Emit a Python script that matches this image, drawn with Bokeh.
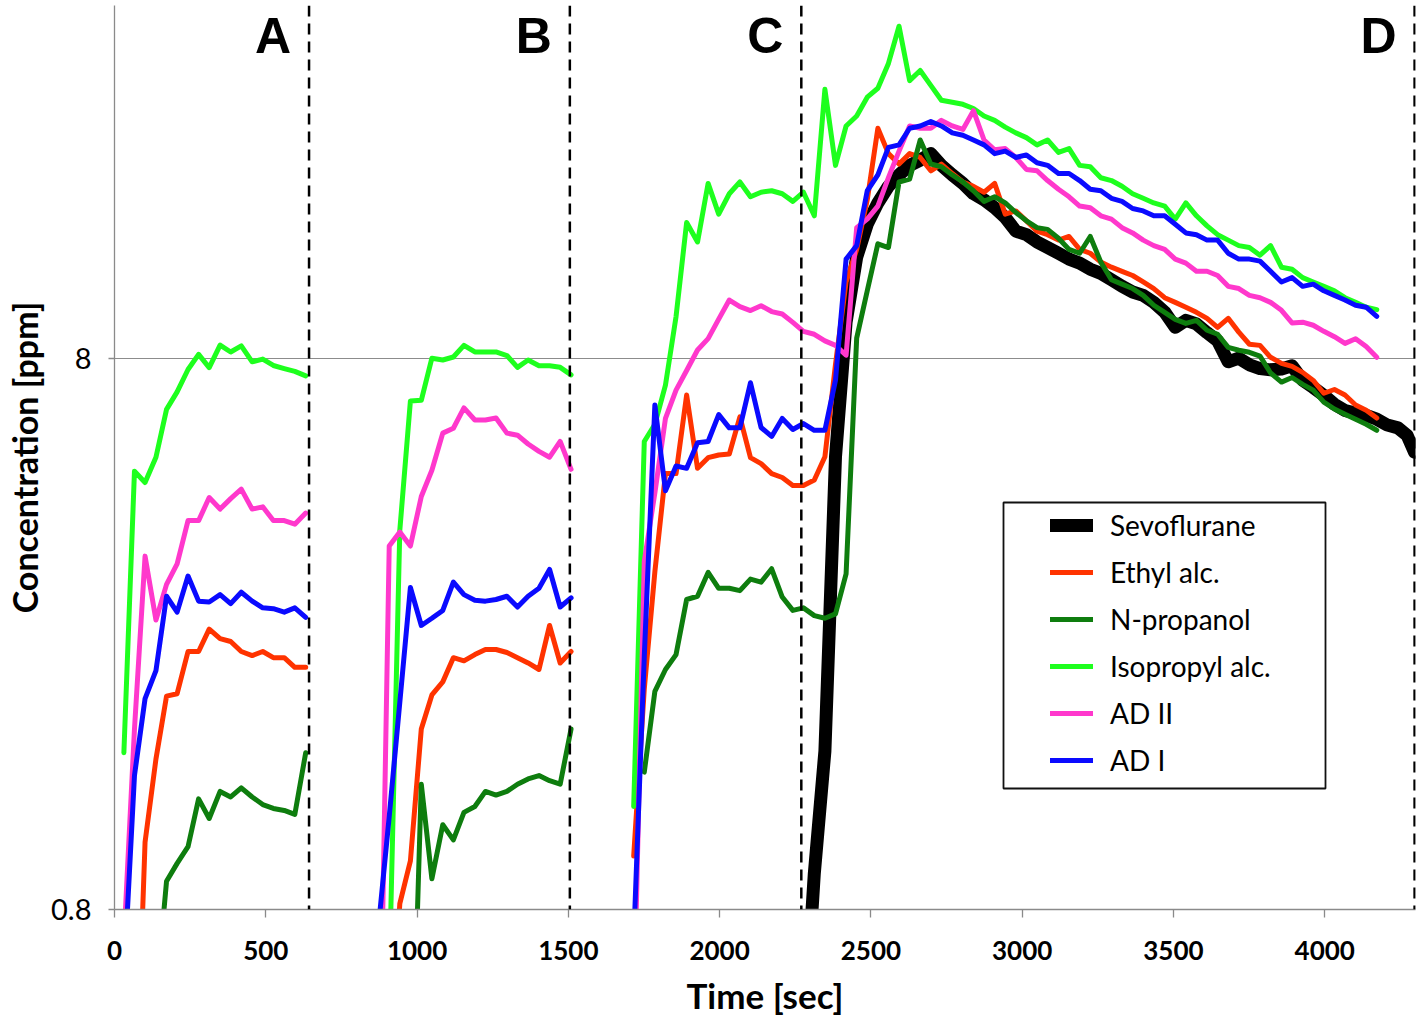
import math
from bokeh.plotting import figure
from bokeh.models import (Range1d, FixedTicker, CustomJSTickFormatter, Span, Label,
                          Legend, LegendItem, BoxAnnotation)
from bokeh.embed import file_html
from bokeh.resources import INLINE

NaN = float("nan")

# ---------------- data (time in s, concentration in ppm) ----------------
t_A = [31, 66, 101, 137, 172, 207, 243, 278, 313, 349, 384, 419, 455, 490, 525, 561, 596, 632]
t_B = [873, 908, 943, 978, 1014, 1049, 1085, 1120, 1155, 1191, 1226, 1261, 1297, 1332, 1367,
       1403, 1438, 1473, 1509]
t_CD = [1716, 1751, 1786, 1821, 1856, 1891, 1927, 1962, 1997, 2032, 2067, 2102, 2137, 2172, 2207,
        2242, 2277, 2313, 2348, 2383, 2418, 2453, 2488, 2523, 2558, 2593, 2628, 2663, 2698, 2733,
        2769, 2804, 2839, 2874, 2909, 2944, 2979, 3014, 3049, 3084, 3120, 3155, 3190, 3225, 3260,
        3295, 3330, 3365, 3400, 3435, 3471, 3506, 3541, 3576, 3611, 3646, 3681, 3716, 3751, 3786,
        3821, 3857, 3892, 3927, 3962, 3997, 4032, 4067, 4102, 4137, 4172]
t_sevo = [2277, 2313, 2348, 2383, 2418, 2453, 2488, 2523, 2558, 2593, 2628, 2663, 2698, 2733,
          2769, 2804, 2839, 2874, 2909, 2944, 2979, 3014, 3049, 3084, 3120, 3155, 3190, 3225, 3260,
          3295, 3330, 3365, 3400, 3435, 3471, 3506, 3541, 3576, 3611, 3646, 3681, 3716, 3751, 3786,
          3821, 3857, 3892, 3927, 3962, 3997, 4032, 4067, 4102, 4137, 4172, 4207, 4242, 4272, 4297]

sevoflurane = [0.45, 0.93, 1.55, 5.3, 9.3, 12.2, 14.0, 15.3, 16.4, 17.2, 17.9, 18.3, 18.8, 17.9,
               17.2, 16.6, 15.9, 15.5, 15.0, 14.4, 13.6, 13.4, 13.0, 12.7, 12.4, 12.1, 11.9, 11.6, 11.4,
               11.1, 10.8, 10.55, 10.4, 10.1, 9.7, 9.1, 9.37, 9.23, 8.9, 8.6, 7.88, 8.0, 7.78, 7.66,
               7.62, 7.65, 7.75, 7.3, 7.08, 6.85, 6.6, 6.43, 6.36, 6.3, 6.2, 6.05, 5.98, 5.8, 5.4]

ethyl_A = [0.2, 0.3, 1.06, 1.50, 1.95, 1.97, 2.35, 2.35, 2.58, 2.48, 2.45, 2.35, 2.31, 2.35, 2.29,
           2.29, 2.20, 2.20]
ethyl_B = [0.2, 0.4, 0.82, 0.98, 1.70, 1.96, 2.07, 2.29, 2.26, 2.32, 2.37, 2.37, 2.34, 2.29, 2.24,
           2.18, 2.62, 2.24, 2.35]
ethyl_CD = [1.00, 2.01, 3.28, 4.94, 4.94, 6.86, 5.05, 5.28, 5.34, 5.36, 6.26, 5.28, 5.15, 4.94, 4.86,
            4.70, 4.70, 4.81, 5.3, 7.8, 11.0, 12.6, 15.5, 20.9, 18.8, 18.0, 18.8, 18.5, 17.5, 18.0,
            17.3, 16.7, 16.4, 16.0, 16.6, 14.6, 14.8, 14.2, 13.6, 13.4, 13.1, 13.3, 12.6, 12.4, 11.95,
            11.7, 11.5, 11.3, 11.0, 10.7, 10.3, 10.1, 9.9, 9.69, 9.45, 9.1, 9.45, 8.92, 8.48, 8.44,
            8.03, 7.83, 7.73, 7.54, 7.29, 6.91, 7.02, 6.86, 6.58, 6.44, 6.23]

npropanol_A = [0.2, 0.3, 0.4, 0.55, 0.9, 0.97, 1.04, 1.27, 1.17, 1.31, 1.28, 1.33, 1.28, 1.24, 1.22,
               1.21, 1.19, 1.54]
npropanol_B = [0.2, 0.2, 0.25, 0.3, 1.35, 0.91, 1.14, 1.07, 1.20, 1.23, 1.31, 1.29, 1.31, 1.35, 1.38,
               1.40, 1.37, 1.35, 1.70]
npropanol_CD = [NaN, 1.42, 1.99, 2.18, 2.32, 2.92, 2.96, 3.27, 3.06, 3.06, 3.03, 3.18, 3.14, 3.32, 2.95,
                2.79, 2.82, 2.73, 2.70, 2.75, 3.25, 8.7, 10.6, 12.9, 12.7, 16.7, 16.9, 19.9, 18.0, 17.8,
                17.2, 16.7, 16.1, 15.4, 15.7, 15.3, 14.7, 14.2, 13.8, 13.7, 13.2, 12.6, 12.4, 13.3, 11.95,
                11.1, 10.9, 10.7, 10.4, 9.98, 9.69, 9.41, 9.25, 9.37, 8.99, 8.84, 8.37, 8.27, 8.2, 8.07,
                7.52, 7.24, 7.38, 7.17, 7.0, 6.66, 6.47, 6.33, 6.2, 6.07, 5.92]

isopropyl_A = [1.54, 4.99, 4.76, 5.29, 6.46, 6.95, 7.63, 8.13, 7.69, 8.45, 8.21, 8.42, 7.88, 7.97, 7.76,
               7.66, 7.57, 7.43]
isopropyl_B = [0.3, 0.6, 3.9, 6.69, 6.71, 8.0, 7.94, 8.04, 8.44, 8.21, 8.21, 8.21, 8.09, 7.70, 7.94,
               7.75, 7.75, 7.70, 7.46]
isopropyl_CD = [1.23, 5.65, 6.07, 7.15, 9.52, 14.1, 13.0, 16.6, 14.6, 15.9, 16.7, 15.7, 16.0, 16.1, 15.9,
                15.4, 16.0, 14.5, 24.6, 17.9, 21.1, 22.0, 23.8, 24.7, 27.4, 32.0, 25.5, 26.6, 25.0, 23.5,
                23.3, 23.1, 22.7, 22.0, 21.6, 21.0, 20.5, 20.1, 19.5, 19.9, 18.9, 19.2, 17.9, 17.8, 17.0,
                16.8, 16.4, 15.9, 15.6, 15.3, 15.1, 14.3, 15.3, 14.5, 13.9, 13.4, 13.1, 12.8, 12.7, 12.3,
                12.8, 11.7, 11.6, 11.2, 11.0, 10.8, 10.6, 10.3, 10.1, 9.9, 9.8]

ad2_A = [0.7, 1.7, 3.50, 2.68, 3.11, 3.39, 4.06, 4.06, 4.47, 4.26, 4.45, 4.63, 4.26, 4.30, 4.06, 4.06,
         4.00, 4.19]
ad2_B = [0.3, 3.65, 3.87, 3.65, 4.49, 5.01, 5.85, 5.97, 6.50, 6.18, 6.18, 6.23, 5.85, 5.80, 5.59, 5.42,
         5.29, 5.65, 5.03]
ad2_CD = [0.5, 3.42, 4.56, 6.22, 7.0, 7.6, 8.28, 8.68, 9.42, 10.2, 9.92, 9.76, 9.96, 9.72, 9.62, 9.29,
          8.95, 8.84, 8.6, 8.44, 8.1, 13.8, 14.3, 15.1, 17.0, 19.0, 21.1, 20.9, 20.9, 21.6, 21.1, 20.8,
          22.5, 19.9, 19.1, 19.2, 18.5, 17.6, 17.5, 16.8, 16.2, 15.7, 15.1, 15.0, 14.5, 14.3, 13.8,
          13.5, 13.1, 12.8, 12.6, 12.1, 11.9, 11.5, 11.5, 11.3, 10.8, 10.7, 10.4, 10.3, 10.1, 9.77,
          9.27, 9.3, 9.18, 8.95, 8.75, 8.51, 8.68, 8.4, 8.03]

ad1_A = [0.6, 1.4, 1.93, 2.17, 2.96, 2.77, 3.22, 2.90, 2.89, 2.98, 2.87, 3.01, 2.90, 2.82, 2.81, 2.77,
         2.82, 2.71]
ad1_B = [0.75, 1.18, 1.90, 3.07, 2.62, 2.70, 2.79, 3.14, 2.98, 2.91, 2.90, 2.92, 2.96, 2.83, 2.96, 3.06,
         3.31, 2.83, 2.94]
ad1_CD = [0.7, 2.3, 6.58, 4.60, 5.10, 5.05, 5.62, 5.65, 6.32, 5.98, 5.98, 7.22, 5.99, 5.77, 6.22, 5.94,
          6.09, 5.92, 5.92, 7.3, 12.1, 12.8, 16.1, 17.2, 19.3, 19.5, 20.9, 21.1, 21.5, 21.1, 20.5, 20.3,
          19.9, 19.5, 18.8, 19.0, 18.5, 18.7, 18.1, 17.9, 17.3, 17.3, 16.8, 16.2, 16.1, 15.6, 15.4,
          14.95, 14.8, 14.5, 14.5, 14.0, 13.5, 13.4, 13.1, 13.1, 12.4, 12.1, 12.1, 12.0, 11.5, 11.0,
          11.2, 10.8, 10.9, 10.6, 10.4, 10.2, 9.98, 9.9, 9.53]

phase_names = ["A", "B", "C", "D"]
phase_end = [643, 1505, 2270, 4297]          # dashed boundaries (s)
x_ticks = [0, 500, 1000, 1500, 2000, 2500, 3000, 3500, 4000]
y_ticks = [0.8, 8]
y_grid = [8]


def joined(*parts):
    out = []
    for i, part in enumerate(parts):
        if i:
            out.append(NaN)
        out.extend(part)
    return out


t_all = joined(t_A, t_B, t_CD)

series = [
    ("Sevoflurane", t_sevo, sevoflurane, "#000000", 13),
    ("Ethyl alc.", t_all, joined(ethyl_A, ethyl_B, ethyl_CD), "#FF3300", 5),
    ("N-propanol", t_all, joined(npropanol_A, npropanol_B, npropanol_CD), "#0E7D0E", 5),
    ("Isopropyl alc.", t_all, joined(isopropyl_A, isopropyl_B, isopropyl_CD), "#1EFF1E", 5),
    ("AD II", t_all, joined(ad2_A, ad2_B, ad2_CD), "#FF38CC", 5),
    ("AD I", t_all, joined(ad1_A, ad1_B, ad1_CD), "#0A0AFF", 5),
]

# ---------------- figure ----------------
FONT = "Lato"
p = figure(width=1418, height=1018, y_axis_type="log",
           x_range=Range1d(0, 4300), y_range=Range1d(0.8, 34.9),
           output_backend="svg", toolbar_location=None,
           min_border_left=114, min_border_right=3, min_border_top=5, min_border_bottom=108)
p.outline_line_color = None
p.background_fill_color = "white"
p.border_fill_color = "white"

axis_gray = "#8a8a8a"
for ax in (p.xaxis, p.yaxis):
    ax.axis_line_color = axis_gray
    ax.axis_line_width = 1.3
    ax.major_tick_line_color = axis_gray
    ax.major_tick_line_width = 1.3
    ax.major_tick_in = 0
    ax.minor_tick_line_color = None
    ax.major_label_text_color = "black"
    ax.major_label_text_font = FONT
    ax.axis_label_text_color = "black"
    ax.axis_label_text_font = FONT
    ax.axis_label_text_font_style = "bold"

p.xaxis.ticker = FixedTicker(ticks=x_ticks)
p.xaxis.major_tick_out = 8
p.xaxis.major_label_standoff = 23
p.xaxis.major_label_text_font_size = "26px"
p.xaxis.major_label_text_font_style = "bold"
p.xaxis.axis_label = "Time [sec]"
p.xaxis.axis_label_text_font_size = "35px"
p.xaxis.axis_label_standoff = 11

p.yaxis.ticker = FixedTicker(ticks=y_ticks)
p.yaxis.formatter = CustomJSTickFormatter(code="return tick.toString()")
p.yaxis.major_tick_out = 6
p.yaxis.major_label_standoff = 17
p.yaxis.major_label_text_font_size = "29px"
p.yaxis.major_label_text_font_style = "normal"
p.yaxis.axis_label = "Concentration [ppm]"
p.yaxis.axis_label_text_font_size = "34px"
p.yaxis.axis_label_standoff = 3

p.xgrid.grid_line_color = None
p.ygrid.ticker = FixedTicker(ticks=y_grid)
p.ygrid.grid_line_color = "#8c8c8c"
p.ygrid.grid_line_width = 1.2

renderers = []
for name, xs, ys, color, lw in series:
    r = p.line(xs, ys, line_color=color, line_width=lw, line_join="round", line_cap="round")
    renderers.append((name, r))

# phase boundaries and letters
for name, t_end in zip(phase_names, phase_end):
    p.add_layout(Span(location=t_end, dimension="height", line_color="black",
                      line_width=2.5, line_dash="11 7"))
    p.add_layout(Label(x=t_end, y=874, x_units="data", y_units="screen", text=name,
                       x_offset=-18, text_align="right", text_baseline="alphabetic",
                       text_font="Liberation Sans", text_font_style="bold",
                       text_font_size="50px", text_color="black"))

# legend frame and legend
p.add_layout(BoxAnnotation(left=889, right=1211, bottom=121, top=407,
                           left_units="screen", right_units="screen",
                           bottom_units="screen", top_units="screen",
                           fill_color="white", fill_alpha=1.0,
                           line_color="#111111", line_alpha=1.0, line_width=1.8))
legend = Legend(items=[LegendItem(label=n, renderers=[r]) for n, r in renderers],
                location=(936, 132), padding=0, margin=0, spacing=13,
                glyph_width=43, glyph_height=34, label_height=34, label_standoff=17,
                label_text_font=FONT, label_text_font_size="28px", label_text_color="black",
                border_line_color=None, background_fill_alpha=0)
p.add_layout(legend)

open("out.html", "w").write(file_html(p, INLINE))
